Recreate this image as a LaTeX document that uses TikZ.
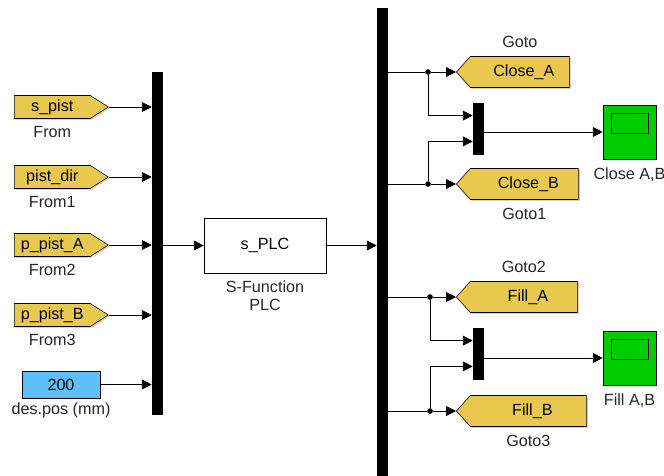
\documentclass[tikz,border=0pt]{standalone}
\usepackage{fontspec}
\setmainfont{Liberation Sans}
\usepackage{xcolor}
\usetikzlibrary{arrows.meta,positioning,shapes.symbols,shadows,calc}

\definecolor{tagGold}{RGB}{232,200,78}
\definecolor{constBlue}{RGB}{95,190,252}
\definecolor{scopeGreen}{RGB}{0,204,0}

\begin{document}
\begin{tikzpicture}[x=0.025cm,y=-0.025cm,
  font=\fontsize{11.5pt}{13pt}\selectfont,
  shd/.style={drop shadow={shadow xshift=1pt,shadow yshift=-1pt,opacity=0.35}},
  fromtag/.style={draw,signal,signal to=east,signal pointer angle=65,fill=tagGold,
                  minimum height=0.575cm,minimum width=2.35cm,inner sep=1pt,shd},
  gototag/.style={draw,signal,signal to=west,signal pointer angle=96,fill=tagGold,
                  minimum height=0.775cm,inner sep=1pt,shd},
  bar/.style={draw,fill=black,minimum width=0.25cm,inner sep=0pt},
  blk/.style={draw,rectangle,fill=white,shd},
  scope/.style={draw,rectangle,fill=scopeGreen,minimum width=1.325cm,
                minimum height=1.35cm,shd},
  screen/.style={draw,rectangle,fill=scopeGreen,minimum width=0.925cm,
                 minimum height=0.5cm,inner sep=0pt},
  lbl/.style={inner sep=1pt,text=black!85},
  dot/.style={circle,fill=black,inner sep=0pt,minimum size=4pt},
  sig/.style={-{Triangle[length=7pt,width=7pt]},line width=0.6pt},
  wire/.style={line width=0.6pt}
]
\useasboundingbox (0,0) rectangle (664,475);
% Input side
\node[fromtag,anchor=west] (f0) at (14,107) {s\_pist};
\node[fromtag,anchor=west] (f1) at (14,177) {pist\_dir};
\node[fromtag,anchor=west] (f2) at (14,245) {p\_pist\_A};
\node[fromtag,anchor=west] (f3) at (14,315) {p\_pist\_B};
\node[blk,fill=constBlue,minimum width=1.95cm,minimum height=0.675cm] (pos) at (61,384.5) {200};
\node[lbl,below=4pt of f0] (f0l) {From};
\node[lbl,below=4pt of f1] (f1l) {From1};
\node[lbl,below=4pt of f2] (f2l) {From2};
\node[lbl,below=4pt of f3] (f3l) {From3};
\node[lbl,below=2pt of pos] (posl) {des.pos (mm)};
\node[bar,minimum height=8.55cm] (mux) at (157,243.5) {};
% S-Function
\node[blk,minimum width=3.05cm,minimum height=1.375cm] (sfun) at (265,245.5) {s\_PLC};
\node[lbl,below=4pt of sfun,align=center] (sfunl) {S-Function\\PLC};
\node[bar,minimum height=11.9cm] (demux) at (382,246) {};
% Arrows: inputs to mux
\foreach \n in {f0,f1,f2,f3,pos}
  \draw[sig] (\n.east) -- (\n.east -| mux.west);
\draw[sig] (mux.east |- sfun.west) -- (sfun.west);
\draw[sig] (sfun.east) -- (sfun.east -| demux.west);
% Goto blocks
\node[gototag,minimum width=2.825cm,anchor=west] (gA) at (456,72) {\hspace{0.2cm}Close\_A};
\node[gototag,minimum width=3.05cm,anchor=west] (gB) at (456,184) {\hspace{0.2cm}Close\_B};
\node[gototag,minimum width=3.025cm,anchor=west] (gC) at (456,297) {\hspace{0.2cm}Fill\_A};
\node[gototag,minimum width=3.25cm,anchor=west] (gD) at (456,411) {\hspace{0.2cm}Fill\_B};
\node[lbl,above=5pt of gA] (gAl) {Goto};
\node[lbl,below=5pt of gB] (gBl) {Goto1};
\node[lbl,above=5pt of gC] (gCl) {Goto2};
\node[lbl,below=5pt of gD] (gDl) {Goto3};
% Mux blocks and scopes
\node[bar,minimum height=1.275cm] (m1) at (478,128.5) {};
\node[bar,minimum height=1.275cm] (m2) at (478,353.5) {};
\node[scope] (sc1) at (629.5,132) {};
\node[scope] (sc2) at (629.5,358) {};
\node[screen,below=0.2cm of sc1.north] (scr1) {};
\node[screen,below=0.2cm of sc2.north] (scr2) {};
\node[lbl,below=5pt of sc1] (sc1l) {Close A,B};
\node[lbl,below=5pt of sc2] (sc2l) {Fill A,B};
% Branch points
\node[dot] (j1) at (428,72) {};
\node[dot] (j2) at (428,184) {};
\node[dot] (j3) at (430,297) {};
\node[dot] (j4) at (430,411) {};
\foreach \j/\g in {j1/gA,j2/gB,j3/gC,j4/gD}{
  \draw[wire] (demux.east |- \j) -- (\j);
  \draw[sig] (\j) -- (\g.west);
}
\draw[sig] (j1) |- ($(m1.north west)!0.25!(m1.south west)$);
\draw[sig] (j2) |- ($(m1.north west)!0.75!(m1.south west)$);
\draw[sig] (j3) |- ($(m2.north west)!0.25!(m2.south west)$);
\draw[sig] (j4) |- ($(m2.north west)!0.75!(m2.south west)$);
\draw[sig] (m1.east |- sc1.west) -- (sc1.west);
\draw[sig] (m2.east |- sc2.west) -- (sc2.west);
\end{tikzpicture}
\end{document}
